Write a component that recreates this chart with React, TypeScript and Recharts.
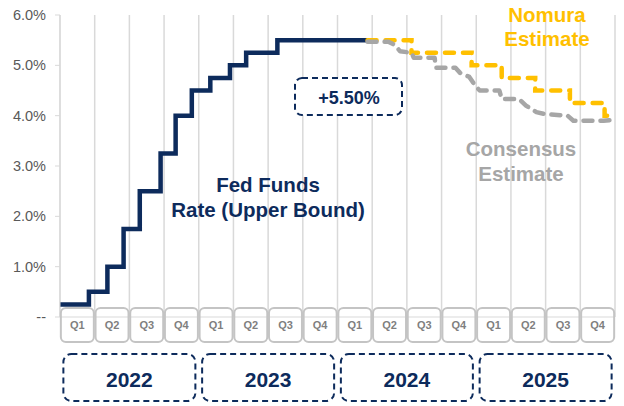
import React from 'react';
import { ComposedChart, Line, XAxis, YAxis, CartesianGrid } from 'recharts';

// months since Jan 2022 on the x axis, rates in %
const fedMonths = [0, 2.5, 4.1, 5.5, 6.9, 8.7, 10.0, 11.4, 13.0, 14.7, 16.1, 18.8, 26.6];
const fedRates = [0.25, 0.5, 1.0, 1.75, 2.5, 3.25, 4.0, 4.5, 4.75, 5.0, 5.25, 5.5, 5.5];

const nomuraMonths = [26.6, 30.4, 35.6, 38.2, 41.1, 44.1, 47.1, 48];
const nomuraRates = [5.5, 5.25, 5.0, 4.75, 4.5, 4.25, 4.0, 4.0];

const consensusMonths = [26.6, 28.4, 29.0, 29.4, 30.4, 30.6, 32.4, 32.5, 34.2, 34.6, 35.4, 35.9, 36.3, 38.0, 38.2, 39.7, 40.3, 41.2, 42.0, 43.9, 44.4, 47.0, 48];
const consensusRates = [5.47, 5.47, 5.4, 5.28, 5.25, 5.15, 5.15, 4.95, 4.95, 4.85, 4.77, 4.6, 4.5, 4.5, 4.33, 4.33, 4.2, 4.07, 4.03, 4.0, 3.9, 3.9, 3.92];

const years = ['2022', '2023', '2024', '2025'];
const quarterNames = ['Q1', 'Q2', 'Q3', 'Q4'];
const yTicks = [0, 1, 2, 3, 4, 5, 6];

const NAVY = '#0d2b5c';
const GOLD = '#ffc000';
const GREY = '#a6a6a6';
const FONT = '"Liberation Sans", Arial, sans-serif';

const fedData = fedMonths.map((m, i) => ({ m, v: fedRates[i] }));
const nomuraData = nomuraMonths.map((m, i) => ({ m, v: nomuraRates[i] }));
const consensusData = consensusMonths.map((m, i) => ({ m, v: consensusRates[i] }));

const quarterTicks = years.flatMap((_, yi) => quarterNames.map((_, qi) => yi * 12 + qi * 3 + 1.5));
const quarterLabels = years.flatMap(() => quarterNames);
const yearTicks = years.map((_, yi) => yi * 12 + 6);
const boundaries = Array.from({ length: years.length * 4 + 1 }, (_, i) => i * 3);

const QuarterTick = (props: any) => {
  const { x, y, index } = props;
  return (
    <g>
      <rect x={x - 16.5} y={y - 9} width={33} height={34} rx={5} fill="none" stroke="#c4c4c4" strokeWidth={2} />
      <text x={x} y={y + 12} textAnchor="middle" fontFamily={FONT} fontSize={11} fontWeight="bold" fill="#7f7f7f">
        {quarterLabels[index]}
      </text>
    </g>
  );
};

const YearTick = (props: any) => {
  const { x, y, index } = props;
  return (
    <g>
      <rect x={x - 66} y={y + 1} width={132} height={47} rx={8} fill="none" stroke={NAVY} strokeWidth={2} strokeDasharray="6 4" />
      <text x={x} y={y + 34} textAnchor="middle" fontFamily={FONT} fontSize={21} fontWeight="bold" fill={NAVY}>
        {years[index]}
      </text>
    </g>
  );
};

export default function App() {
  return (
    <div style={{ position: 'absolute', left: 0, top: 0, width: 624, height: 406, background: '#fff' }}>
      <ComposedChart width={624} height={406} margin={{ top: 15, right: 9, left: 0, bottom: 3 }}>
        <CartesianGrid horizontal={false} verticalValues={boundaries} stroke="#d9d9d9" strokeWidth={1.5} />
        <XAxis
          dataKey="m"
          type="number"
          domain={[0, 48]}
          ticks={quarterTicks}
          interval={0}
          height={36}
          tickSize={0}
          tickMargin={0}
          axisLine={{ stroke: '#d9d9d9' }}
          tick={<QuarterTick />}
          allowDataOverflow
        />
        <XAxis
          xAxisId="year"
          dataKey="m"
          type="number"
          domain={[0, 48]}
          ticks={yearTicks}
          interval={0}
          height={50}
          tickSize={0}
          tickMargin={0}
          axisLine={false}
          tick={<YearTick />}
          allowDataOverflow
        />
        <YAxis
          type="number"
          domain={[0, 6]}
          ticks={yTicks}
          width={60}
          tickSize={5}
          tickMargin={9}
          axisLine={{ stroke: '#d9d9d9' }}
          tickLine={{ stroke: '#d9d9d9' }}
          tick={{ fontFamily: FONT, fontSize: 14.5, fill: '#595959' }}
          tickFormatter={(v: number) => (v === 0 ? '--' : `${v.toFixed(1)}%`)}
        />
        <Line data={fedData} dataKey="v" type="stepAfter" stroke={NAVY} strokeWidth={4.5} dot={false} isAnimationActive={false} />
        <Line data={nomuraData} dataKey="v" type="stepAfter" stroke={GOLD} strokeWidth={4.5} strokeDasharray="9 9" strokeLinecap="round" dot={false} isAnimationActive={false} />
        <Line xAxisId="year" data={consensusData} dataKey="v" type="linear" stroke={GREY} strokeWidth={4.5} strokeDasharray="9 8" strokeLinecap="round" strokeLinejoin="round" dot={false} isAnimationActive={false} />
      </ComposedChart>
      <svg width={624} height={406} style={{ position: 'absolute', left: 0, top: 0, pointerEvents: 'none' }}>
        <g fontFamily={FONT} fontWeight="bold" textAnchor="middle">
          <text x={268} y={192} fontSize={20.5} fill={NAVY}>Fed Funds</text>
          <text x={268} y={217} fontSize={20.5} fill={NAVY}>Rate (Upper Bound)</text>
          <text x={547} y={22} fontSize={20.5} fill={GOLD}>Nomura</text>
          <text x={547} y={46} fontSize={20.5} fill={GOLD}>Estimate</text>
          <text x={521} y={156} fontSize={20.5} fill={GREY}>Consensus</text>
          <text x={521} y={181} fontSize={20.5} fill={GREY}>Estimate</text>
          <rect x={295} y={78} width={107} height={37} rx={7} fill="#fff" stroke={NAVY} strokeWidth={2} strokeDasharray="6 4" />
          <text x={349} y={104} fontSize={18} fill={NAVY}>+5.50%</text>
        </g>
      </svg>
    </div>
  );
}
